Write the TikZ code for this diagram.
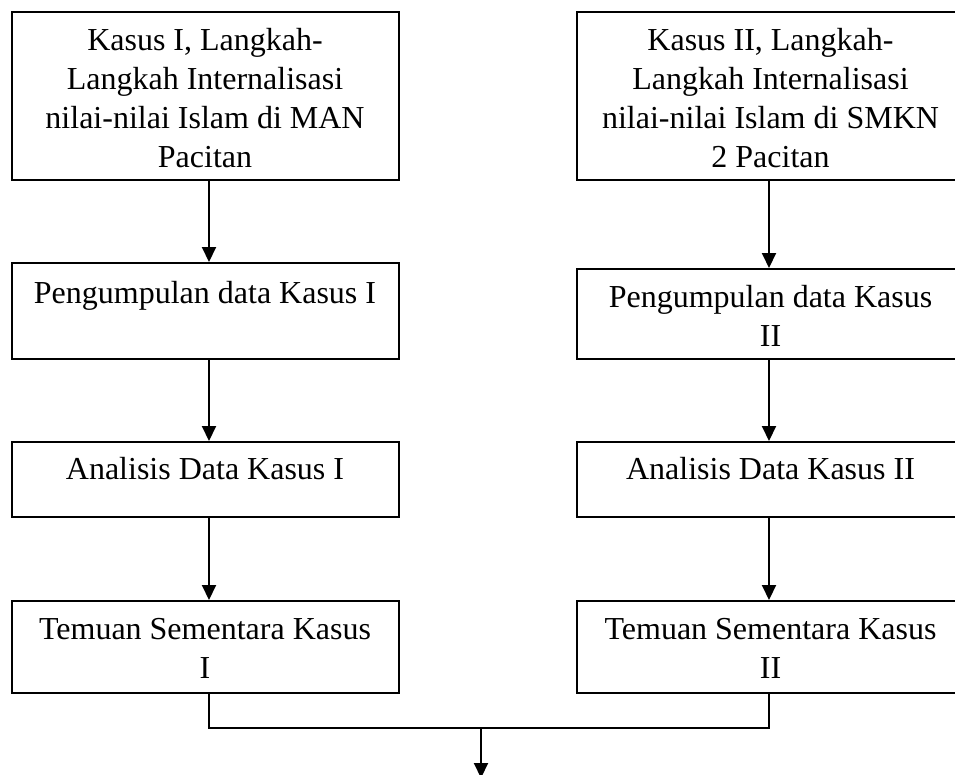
\documentclass[tikz,border=0pt]{standalone}
\usepackage{fontspec}
\setmainfont{Liberation Serif}
\usetikzlibrary{arrows.meta,calc}
\begin{document}
\begin{tikzpicture}[x=1pt,y=-1pt,
  box/.style={draw=black, line width=2pt, rectangle, inner sep=0pt, minimum width=387pt},
  txt/.style={anchor=north, inner sep=0pt, align=center, font=\fontsize{32}{39}\selectfont},
  conn/.style={draw=black, line width=2pt},
  arr/.style={conn, -{Triangle[width=14pt,length=15pt]}}]
\useasboundingbox (0,0) rectangle (955,774);
\begin{scope}
\clip (0,0) rectangle (955,774);
% left column (centre x = 205)
\node[box, minimum height=168pt] (L1) at (205,96) {};
\node[box, minimum height=96pt]  (L2) at (205,311) {};
\node[box, minimum height=75pt]  (L3) at (205,479.5) {};
\node[box, minimum height=92pt]  (L4) at (205,647) {};
% right column (centre x = 770.5)
\node[box, minimum height=168pt] (R1) at (770.5,96) {};
\node[box, minimum height=90pt]  (R2) at (770.5,314) {};
\node[box, minimum height=75pt]  (R3) at (770.5,479.5) {};
\node[box, minimum height=92pt]  (R4) at (770.5,647) {};
% texts
\node[txt] (L1t) at ($(L1.north)+(0,12)$) {\strut Kasus I, Langkah-\\Langkah Internalisasi\\nilai-nilai Islam di MAN\\Pacitan};
\node[txt] (L2t) at ($(L2.north)+(0,14)$) {\strut Pengumpulan data Kasus I};
\node[txt] (L3t) at ($(L3.north)+(0,11)$) {\strut Analisis Data Kasus I};
\node[txt] (L4t) at ($(L4.north)+(0,12)$) {\strut Temuan Sementara Kasus\\I};
\node[txt] (R1t) at ($(R1.north)+(0,12)$) {\strut Kasus II, Langkah-\\Langkah Internalisasi\\nilai-nilai Islam di SMKN\\2 Pacitan};
\node[txt] (R2t) at ($(R2.north)+(0,12)$) {\strut Pengumpulan data Kasus\\II};
\node[txt] (R3t) at ($(R3.north)+(0,11)$) {\strut Analisis Data Kasus II};
\node[txt] (R4t) at ($(R4.north)+(0,12)$) {\strut Temuan Sementara Kasus\\II};
% connectors
\coordinate (ax) at (209,0);
\coordinate (bx) at (769,0);
\draw[arr] (L1.south -| ax) -- (L2.north -| ax);
\draw[arr] (L2.south -| ax) -- (L3.north -| ax);
\draw[arr] (L3.south -| ax) -- (L4.north -| ax);
\draw[arr] (R1.south -| bx) -- (R2.north -| bx);
\draw[arr] (R2.south -| bx) -- (R3.north -| bx);
\draw[arr] (R3.south -| bx) -- (R4.north -| bx);
\coordinate (m) at (481,728);
\coordinate (end) at (481,778);
\draw[conn] (L4.south -| ax) |- (m) -| (R4.south -| bx);
\draw[arr] (m) -- (end);
\end{scope}
\end{tikzpicture}
\end{document}
